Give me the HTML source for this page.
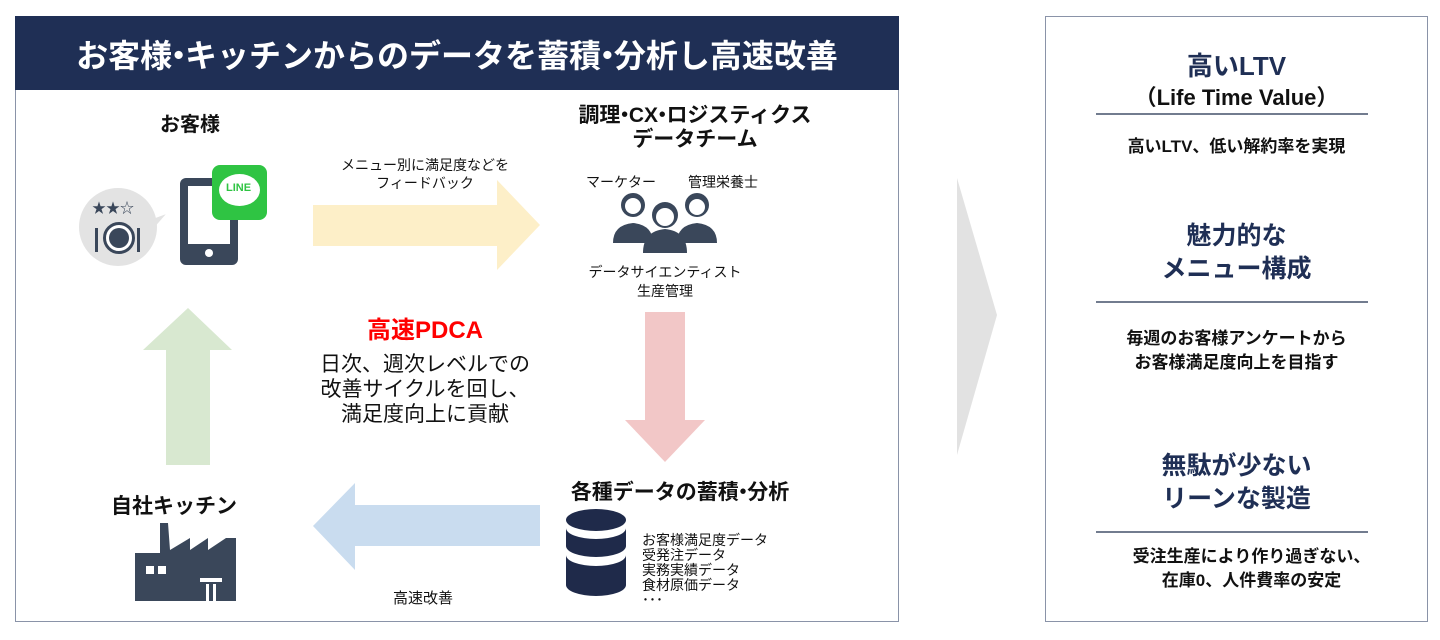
<!DOCTYPE html>
<html><head><meta charset="utf-8"><style>
*{margin:0;padding:0;box-sizing:border-box}
body{width:1440px;height:640px;background:#fff;position:relative;overflow:hidden;font-family:"Liberation Sans","Noto Sans CJK JP",sans-serif;color:#111}
.a{position:absolute;white-space:nowrap}
.c{text-align:center}
.n{color:#1f2f55}
.d{margin:0 -0.3em}
</style></head><body>
<div class="a" style="left:15px;top:16px;width:884px;height:606px;border:1.5px solid #8a93a8"></div>
<div class="a" style="left:15px;top:16px;width:884px;height:74px;background:#1f2f55"></div>
<div class="a c" style="left:15px;top:31px;width:884px;font-size:32px;color:#fff;font-weight:bold;">お客様<span class="d">・</span>キッチンからのデータを蓄積<span class="d">・</span>分析し高速改善</div>

<div class="a c" style="left:130px;top:108px;width:120px;font-size:20px;font-weight:bold">お客様</div>
<div class="a" style="left:79px;top:188px;width:78px;height:78px;border-radius:50%;background:#e3e3e3"></div>
<div class="a" style="left:150px;top:217px;width:0;height:0;border-left:18px solid #e3e3e3;border-top:0 solid transparent;border-bottom:10px solid transparent;transform:rotate(-20deg)"></div>
<div class="a" style="left:92px;top:198px;font-size:14px;color:#3a475a">★★☆</div>
<div class="a" style="left:103px;top:222px;width:32px;height:32px;border-radius:50%;border:3px solid #3a475a;background:#fff"></div>
<div class="a" style="left:109px;top:228px;width:20px;height:20px;border-radius:50%;background:#3a475a"></div>
<div class="a" style="left:95px;top:228px;width:3px;height:24px;background:#3a475a"></div>
<div class="a" style="left:137px;top:228px;width:3px;height:24px;background:#3a475a"></div>
<div class="a" style="left:180px;top:178px;width:58px;height:87px;background:#3a475a;border-radius:6px"></div>
<div class="a" style="left:188px;top:186px;width:42px;height:58px;background:#fff"></div>
<div class="a" style="left:205px;top:249px;width:8px;height:8px;border-radius:50%;background:#fff"></div>
<div class="a" style="left:212px;top:165px;width:55px;height:55px;background:#2fc443;border-radius:8px"></div>
<div class="a" style="left:219px;top:174px;width:41px;height:32px;background:#fff;border-radius:50%"></div>
<div class="a" style="left:226px;top:182px;font-size:11px;font-weight:bold;color:#2fc443">LINE</div>

<svg class="a" style="left:0;top:0" width="1440" height="640">
<polygon points="313,205 497,205 497,180 540,225 497,270 497,246 313,246" fill="#fdefc8"/>
<polygon points="645,312 685,312 685,420 705,420 665,462 625,420 645,420" fill="#f2c7c7"/>
<polygon points="540,505 355,505 355,483 313,526 355,570 355,546 540,546" fill="#c9dcef"/>
<polygon points="166,465 166,350 143,350 188,308 232,350 210,350 210,465" fill="#d8e8d0"/>
<polygon points="957,178 997,315 957,455" fill="#e2e2e2"/>
<g fill="#3a475a">
<circle cx="633" cy="205" r="12"/><path d="M613,243 q0,-18 20,-20 q20,2 20,20z"/>
<circle cx="697" cy="205" r="12"/><path d="M677,243 q0,-18 20,-20 q20,2 20,20z"/>
<circle cx="665" cy="215" r="13"/><path d="M643,253 q0,-22 22,-24 q22,2 22,24z"/>
</g>
<circle cx="633" cy="206" r="8" fill="#fff"/><circle cx="697" cy="207" r="8" fill="#fff"/><circle cx="665" cy="217" r="9" fill="#fff"/>
<g fill="#1f2a4a">
<ellipse cx="596" cy="520" rx="30" ry="11"/>
<path d="M566,528 v18 a30,11 0 0 0 60,0 v-18 a30,11 0 0 1 -60,0z"/>
<path d="M566,555 v30 a30,11 0 0 0 60,0 v-30 a30,11 0 0 1 -60,0z"/>
</g>
<g fill="#3a475a">
<polygon points="135,601 135,553 160,553 160,523 168,523 170,550 190,538 190,550 208,538 208,550 226,538 236,538 236,601"/>
</g>
<rect x="146" y="566" width="8" height="8" fill="#fff"/><rect x="158" y="566" width="8" height="8" fill="#fff"/>
<rect x="200" y="578" width="22" height="4" fill="#fff"/><rect x="206" y="584" width="3" height="18" fill="#fff"/><rect x="213" y="584" width="3" height="18" fill="#fff"/>
<g stroke="#44506a" stroke-width="1.5"><line x1="1096" y1="114" x2="1368" y2="114"/><line x1="1096" y1="302" x2="1368" y2="302"/><line x1="1096" y1="532" x2="1368" y2="532"/></g>
</svg>

<div class="a c" style="left:320px;top:156px;width:210px;font-size:14px;line-height:18px">メニュー別に満足度などを<br>フィードバック</div>
<div class="a c" style="left:540px;top:104px;width:310px;font-size:21px;font-weight:bold;line-height:24px">調理<span class="d">・</span>CX<span class="d">・</span>ロジスティクス<br>データチーム</div>
<div class="a" style="left:586px;top:172px;font-size:14px">マーケター</div>
<div class="a" style="left:688px;top:172px;font-size:14px">管理栄養士</div>
<div class="a c" style="left:560px;top:263px;width:210px;font-size:14px;line-height:19px">データサイエンティスト<br>生産管理</div>

<div class="a c" style="left:300px;top:310px;width:250px;font-size:24px;font-weight:bold;color:#f00">高速PDCA</div>
<div class="a c" style="left:300px;top:352px;width:250px;font-size:21px;line-height:25px">日次、週次レベルでの<br>改善サイクルを回し、<br>満足度向上に貢献</div>

<div class="a c" style="left:540px;top:476px;width:280px;font-size:21px;font-weight:bold">各種データの蓄積<span class="d">・</span>分析</div>
<div class="a" style="left:642px;top:533px;font-size:14px;line-height:15px">お客様満足度データ<br>受発注データ<br>実務実績データ<br>食材原価データ<br>･･･</div>
<div class="a" style="left:111px;top:490px;font-size:21px;font-weight:bold">自社キッチン</div>
<div class="a" style="left:393px;top:587px;font-size:15px">高速改善</div>

<div class="a" style="left:1045px;top:16px;width:383px;height:606px;border:1.5px solid #8a93a8"></div>
<div class="a c n" style="left:1045px;top:46px;width:383px;font-size:26px;font-weight:bold">高いLTV</div>
<div class="a c" style="left:1045px;top:80px;width:383px;font-size:22px;font-weight:bold">（Life Time Value）</div>
<div class="a c" style="left:1045px;top:132px;width:383px;font-size:17px;font-weight:bold">高いLTV、低い解約率を実現</div>
<div class="a c n" style="left:1045px;top:220px;width:383px;font-size:25px;font-weight:bold;line-height:33px">魅力的な<br>メニュー構成</div>
<div class="a c" style="left:1045px;top:327px;width:383px;font-size:17px;font-weight:bold;line-height:24px">毎週のお客様アンケートから<br>お客様満足度向上を目指す</div>
<div class="a c n" style="left:1045px;top:450px;width:383px;font-size:25px;font-weight:bold;line-height:33px">無駄が少ない<br>リーンな製造</div>
<div class="a c" style="left:1060px;top:545px;width:383px;font-size:17px;font-weight:bold;line-height:24px">受注生産により作り過ぎない、<br>在庫0、人件費率の安定</div>
</body></html>
